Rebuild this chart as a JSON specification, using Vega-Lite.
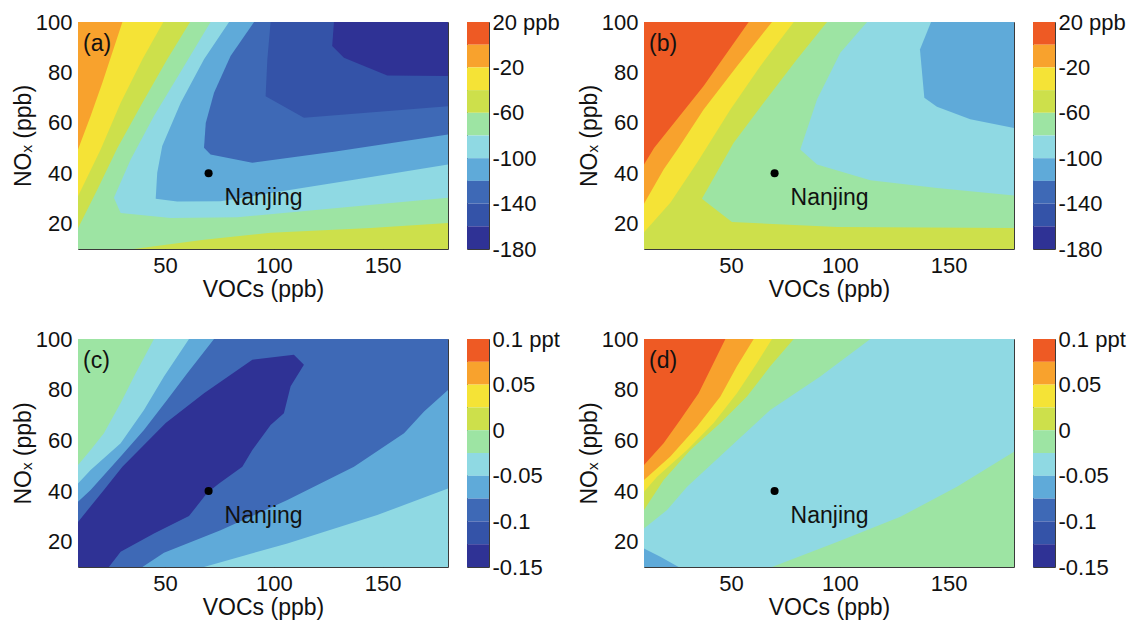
{
"$schema": "https://vega.github.io/schema/vega-lite/v6.json",
"padding": {"left": 11, "top": 10, "right": 5, "bottom": 0},
"config": {
 "view": {"stroke": "#3a3a3a", "strokeWidth": 1},
 "font": "Liberation Sans",
 "axis": {"labelFont": "Liberation Sans", "titleFont": "Liberation Sans", "labelColor": "#111", "titleColor": "#111", "labelFontSize": 22, "titleFontSize": 23, "titleFontWeight": "normal", "grid": false, "domain": false, "tickColor": "#333", "labelFlush": false, "labelOverlap": false},
 "text": {"font": "Liberation Sans", "color": "#111"}
},
"datasets": {
 "poly": [
  {"p":"a","g":"a02","lv":2,"i":0,"x":10,"y":10},{"p":"a","g":"a02","lv":2,"i":1,"x":180,"y":10},{"p":"a","g":"a02","lv":2,"i":2,"x":180,"y":100},{"p":"a","g":"a02","lv":2,"i":3,"x":10,"y":100},
  {"p":"a","g":"a03","lv":3,"i":0,"x":30.4,"y":100},{"p":"a","g":"a03","lv":3,"i":1,"x":180,"y":100},{"p":"a","g":"a03","lv":3,"i":2,"x":180,"y":10},{"p":"a","g":"a03","lv":3,"i":3,"x":10,"y":10},{"p":"a","g":"a03","lv":3,"i":4,"x":10,"y":49.4},{"p":"a","g":"a03","lv":3,"i":5,"x":15.8,"y":62.7},{"p":"a","g":"a03","lv":3,"i":6,"x":21.2,"y":75.9},
  {"p":"a","g":"a04","lv":4,"i":0,"x":49.2,"y":100},{"p":"a","g":"a04","lv":4,"i":1,"x":180,"y":100},{"p":"a","g":"a04","lv":4,"i":2,"x":180,"y":10},{"p":"a","g":"a04","lv":4,"i":3,"x":10,"y":10},{"p":"a","g":"a04","lv":4,"i":4,"x":10,"y":30.9},{"p":"a","g":"a04","lv":4,"i":5,"x":20.4,"y":49.4},{"p":"a","g":"a04","lv":4,"i":6,"x":29.6,"y":68},{"p":"a","g":"a04","lv":4,"i":7,"x":39.6,"y":85.2},
  {"p":"a","g":"a05","lv":5,"i":0,"x":61.5,"y":100},{"p":"a","g":"a05","lv":5,"i":1,"x":180,"y":100},{"p":"a","g":"a05","lv":5,"i":2,"x":180,"y":20.3},{"p":"a","g":"a05","lv":5,"i":3,"x":144.5,"y":18.3},{"p":"a","g":"a05","lv":5,"i":4,"x":98.5,"y":16.4},{"p":"a","g":"a05","lv":5,"i":5,"x":67.9,"y":13.7},{"p":"a","g":"a05","lv":5,"i":6,"x":35.6,"y":10},{"p":"a","g":"a05","lv":5,"i":7,"x":10,"y":10},{"p":"a","g":"a05","lv":5,"i":8,"x":10,"y":18.2},{"p":"a","g":"a05","lv":5,"i":9,"x":18.9,"y":33.6},{"p":"a","g":"a05","lv":5,"i":10,"x":28.1,"y":50},{"p":"a","g":"a05","lv":5,"i":11,"x":39.6,"y":68},{"p":"a","g":"a05","lv":5,"i":12,"x":51,"y":85.2},
  {"p":"a","g":"a06","lv":6,"i":0,"x":70.9,"y":100},{"p":"a","g":"a06","lv":6,"i":1,"x":180,"y":100},{"p":"a","g":"a06","lv":6,"i":2,"x":180,"y":30.3},{"p":"a","g":"a06","lv":6,"i":3,"x":129.1,"y":26.3},{"p":"a","g":"a06","lv":6,"i":4,"x":83.2,"y":22.6},{"p":"a","g":"a06","lv":6,"i":5,"x":52.6,"y":22.3},{"p":"a","g":"a06","lv":6,"i":6,"x":29.6,"y":24.3},{"p":"a","g":"a06","lv":6,"i":7,"x":26.5,"y":30.3},{"p":"a","g":"a06","lv":6,"i":8,"x":34.2,"y":45.5},{"p":"a","g":"a06","lv":6,"i":9,"x":44.9,"y":62.7},{"p":"a","g":"a06","lv":6,"i":10,"x":58.7,"y":82.5},
  {"p":"a","g":"a07","lv":7,"i":0,"x":79.4,"y":100},{"p":"a","g":"a07","lv":7,"i":1,"x":180,"y":100},{"p":"a","g":"a07","lv":7,"i":2,"x":180,"y":43.5},{"p":"a","g":"a07","lv":7,"i":3,"x":136.8,"y":37.5},{"p":"a","g":"a07","lv":7,"i":4,"x":98.5,"y":32.2},{"p":"a","g":"a07","lv":7,"i":5,"x":75.5,"y":28.9},{"p":"a","g":"a07","lv":7,"i":6,"x":55.6,"y":28.8},{"p":"a","g":"a07","lv":7,"i":7,"x":45.7,"y":29.9},{"p":"a","g":"a07","lv":7,"i":8,"x":46.4,"y":40.2},{"p":"a","g":"a07","lv":7,"i":9,"x":48.7,"y":50.8},{"p":"a","g":"a07","lv":7,"i":10,"x":57.2,"y":68},{"p":"a","g":"a07","lv":7,"i":11,"x":67.9,"y":85.2},
  {"p":"a","g":"a08","lv":8,"i":0,"x":90.9,"y":100},{"p":"a","g":"a08","lv":8,"i":1,"x":180,"y":100},{"p":"a","g":"a08","lv":8,"i":2,"x":180,"y":55.4},{"p":"a","g":"a08","lv":8,"i":3,"x":129.1,"y":48.8},{"p":"a","g":"a08","lv":8,"i":4,"x":90.1,"y":44.2},{"p":"a","g":"a08","lv":8,"i":5,"x":70.9,"y":47.5},{"p":"a","g":"a08","lv":8,"i":6,"x":67.9,"y":50.1},{"p":"a","g":"a08","lv":8,"i":7,"x":68.7,"y":60},{"p":"a","g":"a08","lv":8,"i":8,"x":72.5,"y":71.9},{"p":"a","g":"a08","lv":8,"i":9,"x":80.1,"y":86.5},
  {"p":"a","g":"a09","lv":9,"i":0,"x":98.5,"y":100},{"p":"a","g":"a09","lv":9,"i":1,"x":180,"y":100},{"p":"a","g":"a09","lv":9,"i":2,"x":180,"y":66.6},{"p":"a","g":"a09","lv":9,"i":3,"x":113.8,"y":62},{"p":"a","g":"a09","lv":9,"i":4,"x":96.2,"y":70.6},{"p":"a","g":"a09","lv":9,"i":5,"x":97,"y":85.2},
  {"p":"a","g":"a10","lv":10,"i":0,"x":127.6,"y":100},{"p":"a","g":"a10","lv":10,"i":1,"x":180,"y":100},{"p":"a","g":"a10","lv":10,"i":2,"x":180,"y":78.6},{"p":"a","g":"a10","lv":10,"i":3,"x":152.1,"y":78.8},{"p":"a","g":"a10","lv":10,"i":4,"x":132.2,"y":85.8},{"p":"a","g":"a10","lv":10,"i":5,"x":126.8,"y":90.5},

  {"p":"b","g":"b01","lv":1,"i":0,"x":10,"y":10},{"p":"b","g":"b01","lv":1,"i":1,"x":180,"y":10},{"p":"b","g":"b01","lv":1,"i":2,"x":180,"y":100},{"p":"b","g":"b01","lv":1,"i":3,"x":10,"y":100},
  {"p":"b","g":"b02","lv":2,"i":0,"x":58.1,"y":100},{"p":"b","g":"b02","lv":2,"i":1,"x":180,"y":100},{"p":"b","g":"b02","lv":2,"i":2,"x":180,"y":10},{"p":"b","g":"b02","lv":2,"i":3,"x":10,"y":10},{"p":"b","g":"b02","lv":2,"i":4,"x":10,"y":43.5},{"p":"b","g":"b02","lv":2,"i":5,"x":14.7,"y":50.1},{"p":"b","g":"b02","lv":2,"i":6,"x":37.4,"y":74.6},
  {"p":"b","g":"b03","lv":3,"i":0,"x":68.8,"y":100},{"p":"b","g":"b03","lv":3,"i":1,"x":180,"y":100},{"p":"b","g":"b03","lv":3,"i":2,"x":180,"y":10},{"p":"b","g":"b03","lv":3,"i":3,"x":10,"y":10},{"p":"b","g":"b03","lv":3,"i":4,"x":10,"y":27.9},{"p":"b","g":"b03","lv":3,"i":5,"x":19,"y":41.5},{"p":"b","g":"b03","lv":3,"i":6,"x":25.9,"y":50.1},{"p":"b","g":"b03","lv":3,"i":7,"x":37.4,"y":65.3},{"p":"b","g":"b03","lv":3,"i":8,"x":52.7,"y":82.5},
  {"p":"b","g":"b04","lv":4,"i":0,"x":78.8,"y":100},{"p":"b","g":"b04","lv":4,"i":1,"x":180,"y":100},{"p":"b","g":"b04","lv":4,"i":2,"x":180,"y":10},{"p":"b","g":"b04","lv":4,"i":3,"x":10,"y":10},{"p":"b","g":"b04","lv":4,"i":4,"x":10,"y":16.6},{"p":"b","g":"b04","lv":4,"i":5,"x":22.1,"y":28.3},{"p":"b","g":"b04","lv":4,"i":6,"x":34.3,"y":44.1},{"p":"b","g":"b04","lv":4,"i":7,"x":49.7,"y":65.3},{"p":"b","g":"b04","lv":4,"i":8,"x":63.4,"y":82.5},
  {"p":"b","g":"b05","lv":5,"i":0,"x":94.1,"y":100},{"p":"b","g":"b05","lv":5,"i":1,"x":180,"y":100},{"p":"b","g":"b05","lv":5,"i":2,"x":180,"y":18.3},{"p":"b","g":"b05","lv":5,"i":3,"x":98.7,"y":18.7},{"p":"b","g":"b05","lv":5,"i":4,"x":50.4,"y":20.7},{"p":"b","g":"b05","lv":5,"i":5,"x":36.6,"y":29.9},{"p":"b","g":"b05","lv":5,"i":6,"x":51.2,"y":52.1},{"p":"b","g":"b05","lv":5,"i":7,"x":65,"y":68},{"p":"b","g":"b05","lv":5,"i":8,"x":80.3,"y":85.2},
  {"p":"b","g":"b06","lv":6,"i":0,"x":112.5,"y":100},{"p":"b","g":"b06","lv":6,"i":1,"x":180,"y":100},{"p":"b","g":"b06","lv":6,"i":2,"x":180,"y":31.2},{"p":"b","g":"b06","lv":6,"i":3,"x":144.6,"y":34.2},{"p":"b","g":"b06","lv":6,"i":4,"x":114,"y":37.3},{"p":"b","g":"b06","lv":6,"i":5,"x":89.5,"y":43.5},{"p":"b","g":"b06","lv":6,"i":6,"x":81.8,"y":49.4},{"p":"b","g":"b06","lv":6,"i":7,"x":89.5,"y":69.3},{"p":"b","g":"b06","lv":6,"i":8,"x":100.2,"y":87.8},
  {"p":"b","g":"b07","lv":7,"i":0,"x":141.9,"y":100},{"p":"b","g":"b07","lv":7,"i":1,"x":180,"y":100},{"p":"b","g":"b07","lv":7,"i":2,"x":180,"y":58},{"p":"b","g":"b07","lv":7,"i":3,"x":159.9,"y":61.4},{"p":"b","g":"b07","lv":7,"i":4,"x":144.6,"y":66.4},{"p":"b","g":"b07","lv":7,"i":5,"x":138.8,"y":70},{"p":"b","g":"b07","lv":7,"i":6,"x":136.8,"y":89.1},

  {"p":"c","g":"c05","lv":5,"i":0,"x":10,"y":10},{"p":"c","g":"c05","lv":5,"i":1,"x":180,"y":10},{"p":"c","g":"c05","lv":5,"i":2,"x":180,"y":100},{"p":"c","g":"c05","lv":5,"i":3,"x":10,"y":100},
  {"p":"c","g":"c06","lv":6,"i":0,"x":44.9,"y":100},{"p":"c","g":"c06","lv":6,"i":1,"x":180,"y":100},{"p":"c","g":"c06","lv":6,"i":2,"x":180,"y":10},{"p":"c","g":"c06","lv":6,"i":3,"x":10,"y":10},{"p":"c","g":"c06","lv":6,"i":4,"x":10,"y":50.3},{"p":"c","g":"c06","lv":6,"i":5,"x":15.8,"y":56.2},{"p":"c","g":"c06","lv":6,"i":6,"x":21.9,"y":62.8},{"p":"c","g":"c06","lv":6,"i":7,"x":29.6,"y":74.7},{"p":"c","g":"c06","lv":6,"i":8,"x":36.5,"y":86.5},
  {"p":"c","g":"c07","lv":7,"i":0,"x":61,"y":100},{"p":"c","g":"c07","lv":7,"i":1,"x":180,"y":100},{"p":"c","g":"c07","lv":7,"i":2,"x":180,"y":41},{"p":"c","g":"c07","lv":7,"i":3,"x":147.5,"y":30.5},{"p":"c","g":"c07","lv":7,"i":4,"x":106.2,"y":19.3},{"p":"c","g":"c07","lv":7,"i":5,"x":67.9,"y":10},{"p":"c","g":"c07","lv":7,"i":6,"x":10,"y":10},{"p":"c","g":"c07","lv":7,"i":7,"x":10,"y":43},{"p":"c","g":"c07","lv":7,"i":8,"x":15.8,"y":48.3},{"p":"c","g":"c07","lv":7,"i":9,"x":29.6,"y":58.8},{"p":"c","g":"c07","lv":7,"i":10,"x":40.3,"y":72},{"p":"c","g":"c07","lv":7,"i":11,"x":49.5,"y":85.2},
  {"p":"c","g":"c08","lv":8,"i":0,"x":72.5,"y":100},{"p":"c","g":"c08","lv":8,"i":1,"x":180,"y":100},{"p":"c","g":"c08","lv":8,"i":2,"x":180,"y":79.9},{"p":"c","g":"c08","lv":8,"i":3,"x":169,"y":71.4},{"p":"c","g":"c08","lv":8,"i":4,"x":159.8,"y":62.8},{"p":"c","g":"c08","lv":8,"i":5,"x":136.8,"y":49.6},{"p":"c","g":"c08","lv":8,"i":6,"x":106.2,"y":36.4},{"p":"c","g":"c08","lv":8,"i":7,"x":75.5,"y":24.5},{"p":"c","g":"c08","lv":8,"i":8,"x":49.5,"y":15.6},{"p":"c","g":"c08","lv":8,"i":9,"x":39.6,"y":10},{"p":"c","g":"c08","lv":8,"i":10,"x":10,"y":10},{"p":"c","g":"c08","lv":8,"i":11,"x":10,"y":35.8},{"p":"c","g":"c08","lv":8,"i":12,"x":15.8,"y":40.4},{"p":"c","g":"c08","lv":8,"i":13,"x":29.6,"y":53.6},{"p":"c","g":"c08","lv":8,"i":14,"x":40.3,"y":64.1},{"p":"c","g":"c08","lv":8,"i":15,"x":51,"y":76},{"p":"c","g":"c08","lv":8,"i":16,"x":60.2,"y":86.5},
  {"p":"c","g":"c10","lv":10,"i":0,"x":10,"y":27.8},{"p":"c","g":"c10","lv":10,"i":1,"x":21.9,"y":40.4},{"p":"c","g":"c10","lv":10,"i":2,"x":30.4,"y":49.6},{"p":"c","g":"c10","lv":10,"i":3,"x":50.3,"y":66.8},{"p":"c","g":"c10","lv":10,"i":4,"x":67.9,"y":78.6},{"p":"c","g":"c10","lv":10,"i":5,"x":90.1,"y":91.8},{"p":"c","g":"c10","lv":10,"i":6,"x":109.2,"y":93.8},{"p":"c","g":"c10","lv":10,"i":7,"x":113.8,"y":89.8},{"p":"c","g":"c10","lv":10,"i":8,"x":107.7,"y":81.3},{"p":"c","g":"c10","lv":10,"i":9,"x":104.6,"y":70.7},{"p":"c","g":"c10","lv":10,"i":10,"x":98.5,"y":66.1},{"p":"c","g":"c10","lv":10,"i":11,"x":90.1,"y":56.2},{"p":"c","g":"c10","lv":10,"i":12,"x":85.5,"y":49.6},{"p":"c","g":"c10","lv":10,"i":13,"x":74.8,"y":43},{"p":"c","g":"c10","lv":10,"i":14,"x":69.4,"y":39.3},{"p":"c","g":"c10","lv":10,"i":15,"x":61,"y":30.1},{"p":"c","g":"c10","lv":10,"i":16,"x":44.9,"y":23.2},{"p":"c","g":"c10","lv":10,"i":17,"x":29.6,"y":16},{"p":"c","g":"c10","lv":10,"i":18,"x":24.2,"y":10},{"p":"c","g":"c10","lv":10,"i":19,"x":10,"y":10},

  {"p":"d","g":"d01","lv":1,"i":0,"x":10,"y":10},{"p":"d","g":"d01","lv":1,"i":1,"x":180,"y":10},{"p":"d","g":"d01","lv":1,"i":2,"x":180,"y":100},{"p":"d","g":"d01","lv":1,"i":3,"x":10,"y":100},
  {"p":"d","g":"d02","lv":2,"i":0,"x":47.4,"y":100},{"p":"d","g":"d02","lv":2,"i":1,"x":180,"y":100},{"p":"d","g":"d02","lv":2,"i":2,"x":180,"y":10},{"p":"d","g":"d02","lv":2,"i":3,"x":10,"y":10},{"p":"d","g":"d02","lv":2,"i":4,"x":10,"y":50.3},{"p":"d","g":"d02","lv":2,"i":5,"x":19,"y":58.8},{"p":"d","g":"d02","lv":2,"i":6,"x":26.7,"y":68.1},{"p":"d","g":"d02","lv":2,"i":7,"x":35.1,"y":78.6},
  {"p":"d","g":"d03","lv":3,"i":0,"x":60.4,"y":100},{"p":"d","g":"d03","lv":3,"i":1,"x":180,"y":100},{"p":"d","g":"d03","lv":3,"i":2,"x":180,"y":10},{"p":"d","g":"d03","lv":3,"i":3,"x":10,"y":10},{"p":"d","g":"d03","lv":3,"i":4,"x":10,"y":44.3},{"p":"d","g":"d03","lv":3,"i":5,"x":22.1,"y":53.6},{"p":"d","g":"d03","lv":3,"i":6,"x":34.3,"y":65.4},{"p":"d","g":"d03","lv":3,"i":7,"x":45.1,"y":77.3},{"p":"d","g":"d03","lv":3,"i":8,"x":52.7,"y":89.2},
  {"p":"d","g":"d04","lv":4,"i":0,"x":68.8,"y":100},{"p":"d","g":"d04","lv":4,"i":1,"x":180,"y":100},{"p":"d","g":"d04","lv":4,"i":2,"x":180,"y":10},{"p":"d","g":"d04","lv":4,"i":3,"x":10,"y":10},{"p":"d","g":"d04","lv":4,"i":4,"x":10,"y":39.7},{"p":"d","g":"d04","lv":4,"i":5,"x":16,"y":45.6},{"p":"d","g":"d04","lv":4,"i":6,"x":29.8,"y":56.2},{"p":"d","g":"d04","lv":4,"i":7,"x":42,"y":66.8},{"p":"d","g":"d04","lv":4,"i":8,"x":52.7,"y":78.6},{"p":"d","g":"d04","lv":4,"i":9,"x":61.9,"y":90.5},
  {"p":"d","g":"d05","lv":5,"i":0,"x":78.8,"y":100},{"p":"d","g":"d05","lv":5,"i":1,"x":180,"y":100},{"p":"d","g":"d05","lv":5,"i":2,"x":180,"y":10},{"p":"d","g":"d05","lv":5,"i":3,"x":10,"y":10},{"p":"d","g":"d05","lv":5,"i":4,"x":10,"y":32.5},{"p":"d","g":"d05","lv":5,"i":5,"x":19,"y":44.3},{"p":"d","g":"d05","lv":5,"i":6,"x":31.3,"y":56.2},{"p":"d","g":"d05","lv":5,"i":7,"x":45.1,"y":66.8},{"p":"d","g":"d05","lv":5,"i":8,"x":57.3,"y":77.3},{"p":"d","g":"d05","lv":5,"i":9,"x":68,"y":89.2},
  {"p":"d","g":"d06","lv":6,"i":0,"x":114,"y":100},{"p":"d","g":"d06","lv":6,"i":1,"x":180,"y":100},{"p":"d","g":"d06","lv":6,"i":2,"x":180,"y":55.5},{"p":"d","g":"d06","lv":6,"i":3,"x":153.8,"y":41.7},{"p":"d","g":"d06","lv":6,"i":4,"x":127.8,"y":29.8},{"p":"d","g":"d06","lv":6,"i":5,"x":98.7,"y":19.9},{"p":"d","g":"d06","lv":6,"i":6,"x":68.8,"y":10},{"p":"d","g":"d06","lv":6,"i":7,"x":10,"y":10},{"p":"d","g":"d06","lv":6,"i":8,"x":10,"y":25.2},{"p":"d","g":"d06","lv":6,"i":9,"x":20.6,"y":32.5},{"p":"d","g":"d06","lv":6,"i":10,"x":29.8,"y":41.7},{"p":"d","g":"d06","lv":6,"i":11,"x":49.7,"y":57.5},{"p":"d","g":"d06","lv":6,"i":12,"x":68,"y":72},{"p":"d","g":"d06","lv":6,"i":13,"x":91,"y":85.2},
  {"p":"d","g":"d07","lv":7,"i":0,"x":10,"y":17.3},{"p":"d","g":"d07","lv":7,"i":1,"x":17.5,"y":14},{"p":"d","g":"d07","lv":7,"i":2,"x":25.9,"y":10},{"p":"d","g":"d07","lv":7,"i":3,"x":10,"y":10}
 ],
 "cbar": [
  {"r":"top","lv":1,"lo":0,"hi":20},{"r":"top","lv":2,"lo":-20,"hi":0},{"r":"top","lv":3,"lo":-40,"hi":-20},{"r":"top","lv":4,"lo":-60,"hi":-40},{"r":"top","lv":5,"lo":-80,"hi":-60},{"r":"top","lv":6,"lo":-100,"hi":-80},{"r":"top","lv":7,"lo":-120,"hi":-100},{"r":"top","lv":8,"lo":-140,"hi":-120},{"r":"top","lv":9,"lo":-160,"hi":-140},{"r":"top","lv":10,"lo":-180,"hi":-160},
  {"r":"bot","lv":1,"lo":0.075,"hi":0.1},{"r":"bot","lv":2,"lo":0.05,"hi":0.075},{"r":"bot","lv":3,"lo":0.025,"hi":0.05},{"r":"bot","lv":4,"lo":0,"hi":0.025},{"r":"bot","lv":5,"lo":-0.025,"hi":0},{"r":"bot","lv":6,"lo":-0.05,"hi":-0.025},{"r":"bot","lv":7,"lo":-0.075,"hi":-0.05},{"r":"bot","lv":8,"lo":-0.1,"hi":-0.075},{"r":"bot","lv":9,"lo":-0.125,"hi":-0.1},{"r":"bot","lv":10,"lo":-0.15,"hi":-0.125}
 ],
 "site": [{"name": "Nanjing", "x": 70, "y": 40}],
 "tags": [{"p":"a","t":"(a)"},{"p":"b","t":"(b)"},{"p":"c","t":"(c)"},{"p":"d","t":"(d)"}]
},
"concat": [
 {"width": 370, "height": 227,
  "layer": [
   {"data": {"name": "poly"}, "transform": [{"filter": "datum.p == 'a'"}],
    "mark": {"type": "line", "strokeWidth": 0, "clip": true},
    "encoding": {
     "x": {"field": "x", "type": "quantitative", "scale": {"domain": [10,180], "nice": false, "zero": false}, "axis": {"orient": "bottom", "values": [50,100,150], "title": "VOCs (ppb)", "tickSize": -4, "labelPadding": 10, "titlePadding": 2}},
     "y": {"field": "y", "type": "quantitative", "scale": {"domain": [10,100], "nice": false, "zero": false}, "axis": {"orient": "left", "values": [20,40,60,80,100], "title": "NOₓ (ppb)", "tickSize": -4, "labelPadding": 10, "titlePadding": 0}},
     "detail": {"field": "g", "type": "nominal"},
     "order": {"field": "i", "type": "quantitative"},
     "fill": {"field": "lv", "type": "ordinal", "scale": {"domain": [1,2,3,4,5,6,7,8,9,10], "range": ["#EE5A24","#F8A22D","#F5E336","#CDE04B","#9DE4A3","#8FD9E3","#5FAAD9","#3E69B6","#3453A8","#2F3295"]}, "legend": null}
    }},
   {"data": {"name": "site"}, "mark": {"type": "circle", "size": 65, "color": "#000", "opacity": 1},
    "encoding": {"x": {"field": "x", "type": "quantitative", "axis": {"orient": "top", "values": [50,100,150], "labels": false, "title": null, "tickSize": -4}}, "y": {"field": "y", "type": "quantitative", "axis": {"orient": "right", "values": [20,40,60,80], "labels": false, "title": null, "tickSize": -4}}}},
   {"data": {"name": "site"}, "mark": {"type": "text", "align": "left", "baseline": "middle", "dx": 16, "dy": 25, "fontSize": 23},
    "encoding": {"x": {"field": "x", "type": "quantitative", "axis": null}, "y": {"field": "y", "type": "quantitative", "axis": null}, "text": {"field": "name"}}},
   {"data": {"name": "tags"}, "transform": [{"filter": "datum.p == 'a'"}], "mark": {"type": "text", "align": "left", "baseline": "middle", "dx": 5, "dy": 22, "fontSize": 23},
    "encoding": {"x": {"datum": 10, "type": "quantitative", "axis": null}, "y": {"datum": 100, "type": "quantitative", "axis": null}, "text": {"field": "t"}}}
  ],
  "resolve": {"axis": {"x": "independent", "y": "independent"}}
 },
 {"width": 22, "height": 227, "data": {"name": "cbar"}, "transform": [{"filter": "datum.r == 'top'"}],
  "mark": {"type": "rect"},
  "encoding": {
   "y": {"field": "lo", "type": "quantitative", "scale": {"domain": [-180,20], "nice": false, "zero": false}, "axis": {"orient": "right", "values": [20,-20,-60,-100,-140,-180], "labelExpr": "datum.value == 20 ? '20 ppb' : '' + datum.value", "title": null, "ticks": false, "labelPadding": 3}},
   "y2": {"field": "hi"},
   "fill": {"field": "lv", "type": "ordinal", "scale": {"domain": [1,2,3,4,5,6,7,8,9,10], "range": ["#EE5A24","#F8A22D","#F5E336","#CDE04B","#9DE4A3","#8FD9E3","#5FAAD9","#3E69B6","#3453A8","#2F3295"]}, "legend": null}
  }},
 {"width": 370, "height": 227,
  "layer": [
   {"data": {"name": "poly"}, "transform": [{"filter": "datum.p == 'b'"}],
    "mark": {"type": "line", "strokeWidth": 0, "clip": true},
    "encoding": {
     "x": {"field": "x", "type": "quantitative", "scale": {"domain": [10,180], "nice": false, "zero": false}, "axis": {"orient": "bottom", "values": [50,100,150], "title": "VOCs (ppb)", "tickSize": -4, "labelPadding": 10, "titlePadding": 2}},
     "y": {"field": "y", "type": "quantitative", "scale": {"domain": [10,100], "nice": false, "zero": false}, "axis": {"orient": "left", "values": [20,40,60,80,100], "title": "NOₓ (ppb)", "tickSize": -4, "labelPadding": 10, "titlePadding": 0}},
     "detail": {"field": "g", "type": "nominal"},
     "order": {"field": "i", "type": "quantitative"},
     "fill": {"field": "lv", "type": "ordinal", "scale": {"domain": [1,2,3,4,5,6,7,8,9,10], "range": ["#EE5A24","#F8A22D","#F5E336","#CDE04B","#9DE4A3","#8FD9E3","#5FAAD9","#3E69B6","#3453A8","#2F3295"]}, "legend": null}
    }},
   {"data": {"name": "site"}, "mark": {"type": "circle", "size": 65, "color": "#000", "opacity": 1},
    "encoding": {"x": {"field": "x", "type": "quantitative", "axis": {"orient": "top", "values": [50,100,150], "labels": false, "title": null, "tickSize": -4}}, "y": {"field": "y", "type": "quantitative", "axis": {"orient": "right", "values": [20,40,60,80], "labels": false, "title": null, "tickSize": -4}}}},
   {"data": {"name": "site"}, "mark": {"type": "text", "align": "left", "baseline": "middle", "dx": 16, "dy": 25, "fontSize": 23},
    "encoding": {"x": {"field": "x", "type": "quantitative", "axis": null}, "y": {"field": "y", "type": "quantitative", "axis": null}, "text": {"field": "name"}}},
   {"data": {"name": "tags"}, "transform": [{"filter": "datum.p == 'b'"}], "mark": {"type": "text", "align": "left", "baseline": "middle", "dx": 5, "dy": 22, "fontSize": 23},
    "encoding": {"x": {"datum": 10, "type": "quantitative", "axis": null}, "y": {"datum": 100, "type": "quantitative", "axis": null}, "text": {"field": "t"}}}
  ],
  "resolve": {"axis": {"x": "independent", "y": "independent"}}
 },
 {"width": 22, "height": 227, "data": {"name": "cbar"}, "transform": [{"filter": "datum.r == 'top'"}],
  "mark": {"type": "rect"},
  "encoding": {
   "y": {"field": "lo", "type": "quantitative", "scale": {"domain": [-180,20], "nice": false, "zero": false}, "axis": {"orient": "right", "values": [20,-20,-60,-100,-140,-180], "labelExpr": "datum.value == 20 ? '20 ppb' : '' + datum.value", "title": null, "ticks": false, "labelPadding": 3}},
   "y2": {"field": "hi"},
   "fill": {"field": "lv", "type": "ordinal", "scale": {"domain": [1,2,3,4,5,6,7,8,9,10], "range": ["#EE5A24","#F8A22D","#F5E336","#CDE04B","#9DE4A3","#8FD9E3","#5FAAD9","#3E69B6","#3453A8","#2F3295"]}, "legend": null}
  }},
 {"width": 370, "height": 228,
  "layer": [
   {"data": {"name": "poly"}, "transform": [{"filter": "datum.p == 'c'"}],
    "mark": {"type": "line", "strokeWidth": 0, "clip": true},
    "encoding": {
     "x": {"field": "x", "type": "quantitative", "scale": {"domain": [10,180], "nice": false, "zero": false}, "axis": {"orient": "bottom", "values": [50,100,150], "title": "VOCs (ppb)", "tickSize": -4, "labelPadding": 10, "titlePadding": 2}},
     "y": {"field": "y", "type": "quantitative", "scale": {"domain": [10,100], "nice": false, "zero": false}, "axis": {"orient": "left", "values": [20,40,60,80,100], "title": "NOₓ (ppb)", "tickSize": -4, "labelPadding": 10, "titlePadding": 0}},
     "detail": {"field": "g", "type": "nominal"},
     "order": {"field": "i", "type": "quantitative"},
     "fill": {"field": "lv", "type": "ordinal", "scale": {"domain": [1,2,3,4,5,6,7,8,9,10], "range": ["#EE5A24","#F8A22D","#F5E336","#CDE04B","#9DE4A3","#8FD9E3","#5FAAD9","#3E69B6","#3453A8","#2F3295"]}, "legend": null}
    }},
   {"data": {"name": "site"}, "mark": {"type": "circle", "size": 65, "color": "#000", "opacity": 1},
    "encoding": {"x": {"field": "x", "type": "quantitative", "axis": {"orient": "top", "values": [50,100,150], "labels": false, "title": null, "tickSize": -4}}, "y": {"field": "y", "type": "quantitative", "axis": {"orient": "right", "values": [20,40,60,80], "labels": false, "title": null, "tickSize": -4}}}},
   {"data": {"name": "site"}, "mark": {"type": "text", "align": "left", "baseline": "middle", "dx": 16, "dy": 25, "fontSize": 23},
    "encoding": {"x": {"field": "x", "type": "quantitative", "axis": null}, "y": {"field": "y", "type": "quantitative", "axis": null}, "text": {"field": "name"}}},
   {"data": {"name": "tags"}, "transform": [{"filter": "datum.p == 'c'"}], "mark": {"type": "text", "align": "left", "baseline": "middle", "dx": 5, "dy": 22, "fontSize": 23},
    "encoding": {"x": {"datum": 10, "type": "quantitative", "axis": null}, "y": {"datum": 100, "type": "quantitative", "axis": null}, "text": {"field": "t"}}}
  ],
  "resolve": {"axis": {"x": "independent", "y": "independent"}}
 },
 {"width": 22, "height": 228, "data": {"name": "cbar"}, "transform": [{"filter": "datum.r == 'bot'"}],
  "mark": {"type": "rect"},
  "encoding": {
   "y": {"field": "lo", "type": "quantitative", "scale": {"domain": [-0.15,0.1], "nice": false, "zero": false}, "axis": {"orient": "right", "values": [0.1,0.05,0,-0.05,-0.1,-0.15], "labelExpr": "datum.value == 0.1 ? '0.1 ppt' : '' + datum.value", "title": null, "ticks": false, "labelPadding": 3}},
   "y2": {"field": "hi"},
   "fill": {"field": "lv", "type": "ordinal", "scale": {"domain": [1,2,3,4,5,6,7,8,9,10], "range": ["#EE5A24","#F8A22D","#F5E336","#CDE04B","#9DE4A3","#8FD9E3","#5FAAD9","#3E69B6","#3453A8","#2F3295"]}, "legend": null}
  }},
 {"width": 370, "height": 228,
  "layer": [
   {"data": {"name": "poly"}, "transform": [{"filter": "datum.p == 'd'"}],
    "mark": {"type": "line", "strokeWidth": 0, "clip": true},
    "encoding": {
     "x": {"field": "x", "type": "quantitative", "scale": {"domain": [10,180], "nice": false, "zero": false}, "axis": {"orient": "bottom", "values": [50,100,150], "title": "VOCs (ppb)", "tickSize": -4, "labelPadding": 10, "titlePadding": 2}},
     "y": {"field": "y", "type": "quantitative", "scale": {"domain": [10,100], "nice": false, "zero": false}, "axis": {"orient": "left", "values": [20,40,60,80,100], "title": "NOₓ (ppb)", "tickSize": -4, "labelPadding": 10, "titlePadding": 0}},
     "detail": {"field": "g", "type": "nominal"},
     "order": {"field": "i", "type": "quantitative"},
     "fill": {"field": "lv", "type": "ordinal", "scale": {"domain": [1,2,3,4,5,6,7,8,9,10], "range": ["#EE5A24","#F8A22D","#F5E336","#CDE04B","#9DE4A3","#8FD9E3","#5FAAD9","#3E69B6","#3453A8","#2F3295"]}, "legend": null}
    }},
   {"data": {"name": "site"}, "mark": {"type": "circle", "size": 65, "color": "#000", "opacity": 1},
    "encoding": {"x": {"field": "x", "type": "quantitative", "axis": {"orient": "top", "values": [50,100,150], "labels": false, "title": null, "tickSize": -4}}, "y": {"field": "y", "type": "quantitative", "axis": {"orient": "right", "values": [20,40,60,80], "labels": false, "title": null, "tickSize": -4}}}},
   {"data": {"name": "site"}, "mark": {"type": "text", "align": "left", "baseline": "middle", "dx": 16, "dy": 25, "fontSize": 23},
    "encoding": {"x": {"field": "x", "type": "quantitative", "axis": null}, "y": {"field": "y", "type": "quantitative", "axis": null}, "text": {"field": "name"}}},
   {"data": {"name": "tags"}, "transform": [{"filter": "datum.p == 'd'"}], "mark": {"type": "text", "align": "left", "baseline": "middle", "dx": 5, "dy": 22, "fontSize": 23},
    "encoding": {"x": {"datum": 10, "type": "quantitative", "axis": null}, "y": {"datum": 100, "type": "quantitative", "axis": null}, "text": {"field": "t"}}}
  ],
  "resolve": {"axis": {"x": "independent", "y": "independent"}}
 },
 {"width": 22, "height": 228, "data": {"name": "cbar"}, "transform": [{"filter": "datum.r == 'bot'"}],
  "mark": {"type": "rect"},
  "encoding": {
   "y": {"field": "lo", "type": "quantitative", "scale": {"domain": [-0.15,0.1], "nice": false, "zero": false}, "axis": {"orient": "right", "values": [0.1,0.05,0,-0.05,-0.1,-0.15], "labelExpr": "datum.value == 0.1 ? '0.1 ppt' : '' + datum.value", "title": null, "ticks": false, "labelPadding": 3}},
   "y2": {"field": "hi"},
   "fill": {"field": "lv", "type": "ordinal", "scale": {"domain": [1,2,3,4,5,6,7,8,9,10], "range": ["#EE5A24","#F8A22D","#F5E336","#CDE04B","#9DE4A3","#8FD9E3","#5FAAD9","#3E69B6","#3453A8","#2F3295"]}, "legend": null}
  }}
],
"columns": 4,
"spacing": {"row": 25, "column": 17},
"align": "each",
"bounds": "full",
"resolve": {"scale": {"fill": "independent"}}
}
